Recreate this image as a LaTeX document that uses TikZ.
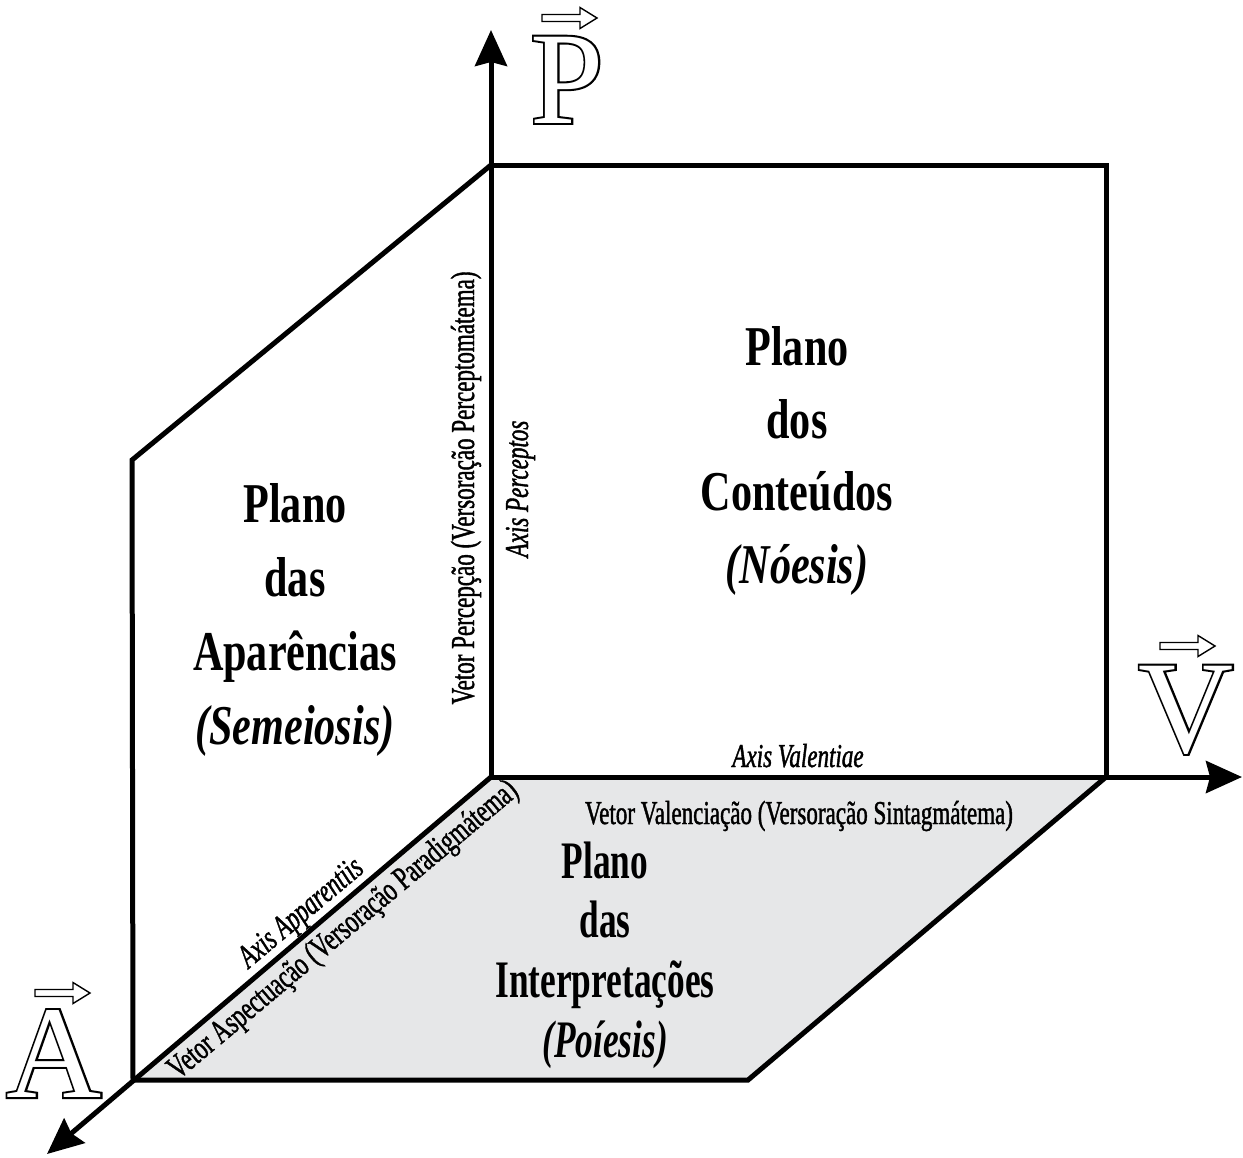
\documentclass[tikz,border=0pt]{standalone}
\usepackage{fontspec}
\setmainfont[FakeStretch=0.75]{Liberation Serif}
\newfontfamily\narrowfont[FakeStretch=0.67]{Liberation Serif}
\newfontfamily\labelfont[FakeStretch=0.69,FakeBold=1.2]{Liberation Serif}
\newfontfamily\letterfont{Liberation Serif}
\newfontfamily\letterbold[FakeBold=3]{Liberation Serif}
\usetikzlibrary{arrows.meta}
\definecolor{planegray}{RGB}{230,231,232}
% outlined letter: heavy black copy under a white copy
\newcommand{\hollow}[1]{{\letterbold\rlap{#1}}{\letterfont\color{white}#1}}

\begin{document}
\begin{tikzpicture}[x=0.02cm,y=-0.02cm,
  >={Stealth[length=0.72cm,width=0.64cm,inset=0.08cm]},
  edge/.style={line width=0.1cm},
  axis/.style={line width=0.1cm,->},
  plane/.style={font=\fontsize{32}{41.5}\selectfont\bfseries,align=center},
  lowplane/.style={font=\narrowfont\fontsize{30}{34}\selectfont\bfseries,align=center},
  tag/.style={font=\labelfont\fontsize{19}{22}\selectfont,anchor=base,inner sep=0pt},
  axislabel/.style={tag,font=\labelfont\fontsize{19}{22}\selectfont\itshape},
  letter/.style={font=\letterfont\fontsize{75}{80}\selectfont,anchor=base,inner sep=0pt},
  vecarrow/.pic={\draw[line width=0.8pt,fill=white] (0,-3.5) -- (38,-3.5) -- (38,-10.5) -- (55,0) -- (38,10.5) -- (38,3.5) -- (0,3.5) -- cycle;}]

\useasboundingbox (0,0) rectangle (1243,1157);

% corners of the three planes
\coordinate (O) at (491,777);
\coordinate (Ptop) at (491,165);
\coordinate (Vtop) at (1106,165);
\coordinate (Vend) at (1106,777);
\coordinate (Atop) at (132,460);
\coordinate (Aend) at (133,1080);
\coordinate (Bend) at (748,1080);
\coordinate (Ptip) at (491,30);
\coordinate (Vtip) at (1242,777);
\coordinate (Atip) at (47,1154);

% planes
\fill[planegray] (O) -- (Vend) -- (Bend) -- (Aend) -- cycle;
\draw[edge] (Vend) -- (Bend) -- (Aend);
\draw[edge] (Ptop) -- (Vtop) -- (Vend);
\draw[edge] (Ptop) -- (Atop) -- (Aend);

% axes
\draw[axis] (O) -- (Ptip);
\draw[axis] (O) -- (Vtip);
\draw[axis] (O) -- (Atip);

% plane names
\node[plane] (noesis) at (797,461) {Plano\\dos\\Conteúdos\\\textit{(Nóesis)}};
\node[plane,font=\fontsize{32}{42}\selectfont\bfseries] (semeiosis) at (295,620) {Plano\\das\\Aparências\\\textit{(Semeiosis)}};
\node[lowplane] (poiesis) at (605,955) {Plano\\das\\Interpretações\\\textit{(Poíesis)}};

% axis labels
\node[tag] (valvec) at (799,824) {Vetor Valenciação (Versoração Sintagmátema)};
\node[axislabel] (valaxis) at (798,767) {Axis Valentiae};
\node[tag,rotate=90] (percvec) at (474,488) {Vetor Percepção (Versoração Perceptomátema)};
\node[axislabel,rotate=90] (percaxis) at (528,489) {Axis Perceptos};
\node[tag,rotate=40] (aspvec) at (349,937) {Vetor Aspectuação (Versoração Paradigmátema)};
\node[axislabel,rotate=40] (aspaxis) at (307,920) {Axis Apparentiis};

% vector letters
\node[letter] (Plet) at (567,123) {\hollow{P}};
\node[letter] (Vlet) at (1186,752) {\hollow{V}};
\node[letter] (Alet) at (54,1097) {\hollow{A}};
\pic at (542,18) {vecarrow};
\pic at (1160,646) {vecarrow};
\pic at (35,993) {vecarrow};
\end{tikzpicture}
\end{document}
